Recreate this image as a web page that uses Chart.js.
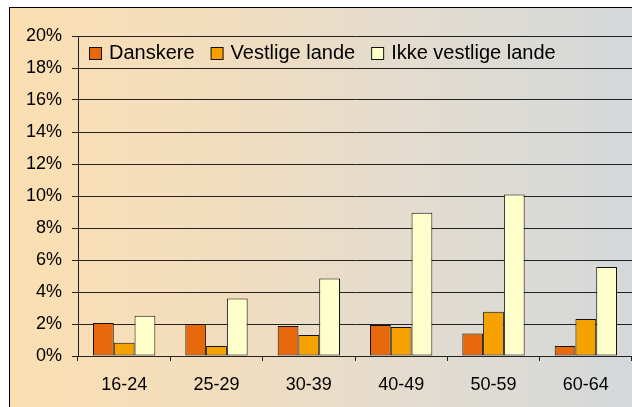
<!DOCTYPE html>
<html><head><meta charset="utf-8">
<script src="https://cdn.jsdelivr.net/npm/chart.js@4/dist/chart.umd.min.js"></script>
<style>
html,body{margin:0;padding:0;background:#fff;width:632px;height:407px;overflow:hidden;}
#frame{position:absolute;left:9px;top:7px;width:640px;height:420px;border:1px solid #000;box-sizing:border-box;
 background:linear-gradient(to right,#FBDFB1 0%,#F1DDBF 35%,#E2DCD0 65%,#D3D8DB 100%);}
#wrap{position:absolute;left:0;top:0;width:632px;height:407px;}
</style></head>
<body>
<div id="frame"></div>
<div id="wrap"><canvas id="c" width="632" height="407"></canvas></div>
<script>
const categories = ['16-24','25-29','30-39','40-49','50-59','60-64'];
const seriesNames = ['Danskere','Vestlige lande','Ikke vestlige lande'];
const danskere = [2.06, 2.0, 1.87, 1.94, 1.41, 0.62];
const vestligeLande = [0.83, 0.62, 1.31, 1.81, 2.77, 2.31];
const ikkeVestligeLande = [2.52, 3.6, 4.85, 8.96, 10.1, 5.56];
const yTickLabels = ['0%','2%','4%','6%','8%','10%','12%','14%','16%','18%','20%'];

const FAMILY = '"Liberation Sans", Arial, sans-serif';
const colors = ['#E8690C','#F5A100','#FFFFCC'];

const legendPlugin = {
  id: 'customLegend',
  afterDraw(chart) {
    const ctx = chart.ctx;
    ctx.save();
    ctx.font = '20px ' + FAMILY;
    ctx.textBaseline = 'alphabetic';
    let x = 89;
    const baseline = 59;
    chart.data.datasets.forEach(ds => {
      ctx.fillStyle = ds.backgroundColor;
      ctx.fillRect(x + 0.5, 47.5, 12, 12);
      ctx.strokeStyle = '#111';
      ctx.lineWidth = 1;
      ctx.strokeRect(x + 0.5, 47.5, 12, 12);
      ctx.fillStyle = '#000';
      ctx.fillText(ds.label, x + 20, baseline);
      x += 20 + ctx.measureText(ds.label).width + 16;
    });
    ctx.restore();
  }
};

const datasets = [danskere, vestligeLande, ikkeVestligeLande].map((d, i) => ({
  label: seriesNames[i],
  data: d,
  backgroundColor: colors[i],
  borderColor: '#111',
  borderWidth: 1,
  borderSkipped: false,
  inflateAmount: 0,
  categoryPercentage: 0.675,
  barPercentage: 1.0
}));

new Chart(document.getElementById('c'), {
  type: 'bar',
  data: { labels: categories, datasets },
  options: {
    responsive: false,
    animation: false,
    devicePixelRatio: 1,
    layout: { padding: { top: 36, right: 0, bottom: 0, left: 0 } },
    plugins: { legend: { display: false }, tooltip: { enabled: false } },
    scales: {
      x: {
        grid: { display: true, drawOnChartArea: false, drawTicks: true, tickLength: 5, offset: true, color: '#222' },
        border: { color: '#222', width: 1 },
        ticks: { color: '#000', font: { size: 18, family: FAMILY }, padding: 13, maxRotation: 0 },
        afterFit(axis) { axis.height = 51; }
      },
      y: {
        min: 0, max: 20,
        ticks: { stepSize: 2, color: '#000', font: { size: 18, family: FAMILY }, padding: 10,
          callback: (v, i) => yTickLabels[i] },
        grid: { color: '#222', lineWidth: 1, tickLength: 6, drawTicks: true },
        border: { color: '#222', width: 1 },
        afterFit(axis) { axis.width = 78; }
      }
    }
  },
  plugins: [legendPlugin]
});
</script>
</body></html>
